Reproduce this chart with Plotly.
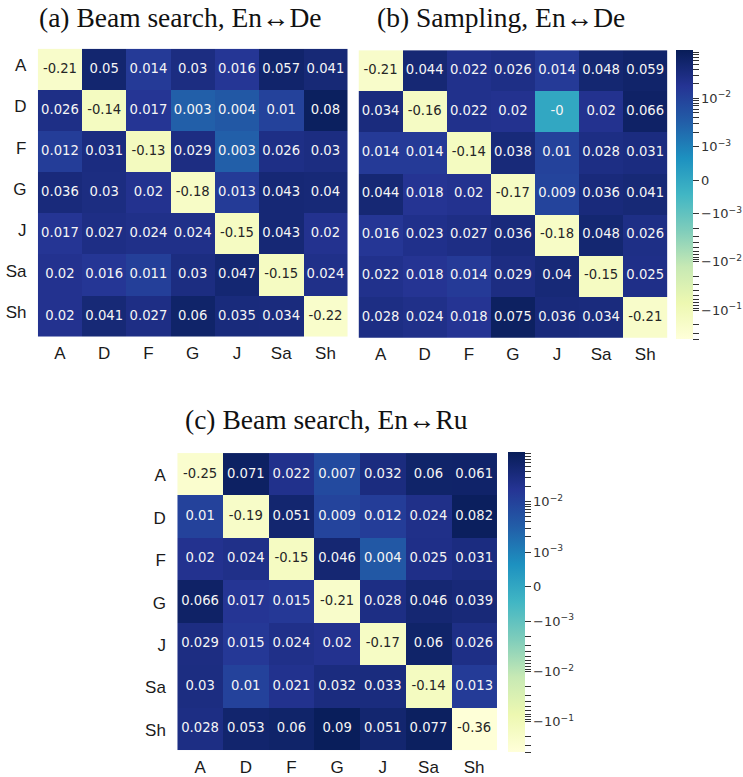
import numpy as np
import plotly.graph_objects as go

labels = ["A", "D", "F", "G", "J", "Sa", "Sh"]

beam_en_de = [
    [-0.21, 0.05, 0.014, 0.03, 0.016, 0.057, 0.041],
    [0.026, -0.14, 0.017, 0.003, 0.004, 0.01, 0.08],
    [0.012, 0.031, -0.13, 0.029, 0.003, 0.026, 0.03],
    [0.036, 0.03, 0.02, -0.18, 0.013, 0.043, 0.04],
    [0.017, 0.027, 0.024, 0.024, -0.15, 0.043, 0.02],
    [0.02, 0.016, 0.011, 0.03, 0.047, -0.15, 0.024],
    [0.02, 0.041, 0.027, 0.06, 0.035, 0.034, -0.22],
]
sampling_en_de = [
    [-0.21, 0.044, 0.022, 0.026, 0.014, 0.048, 0.059],
    [0.034, -0.16, 0.022, 0.02, -0.0, 0.02, 0.066],
    [0.014, 0.014, -0.14, 0.038, 0.01, 0.028, 0.031],
    [0.044, 0.018, 0.02, -0.17, 0.009, 0.036, 0.041],
    [0.016, 0.023, 0.027, 0.036, -0.18, 0.048, 0.026],
    [0.022, 0.018, 0.014, 0.029, 0.04, -0.15, 0.025],
    [0.028, 0.024, 0.018, 0.075, 0.036, 0.034, -0.21],
]
beam_en_ru = [
    [-0.25, 0.071, 0.022, 0.007, 0.032, 0.06, 0.061],
    [0.01, -0.19, 0.051, 0.009, 0.012, 0.024, 0.082],
    [0.02, 0.024, -0.15, 0.046, 0.004, 0.025, 0.031],
    [0.066, 0.017, 0.015, -0.21, 0.028, 0.046, 0.039],
    [0.029, 0.015, 0.024, 0.02, -0.17, 0.06, 0.026],
    [0.03, 0.01, 0.021, 0.032, 0.033, -0.14, 0.013],
    [0.028, 0.053, 0.06, 0.09, 0.051, 0.077, -0.36],
]
titles = ["(a) Beam search, En↔De", "(b) Sampling, En↔De", "(c) Beam search, En↔Ru"]

VMIN, VMAX = -0.4, 0.098
LINTHRESH, LINSCALE = 1e-3, 0.69

ylgnbu = ["#ffffd9", "#edf8b1", "#c7e9b4", "#7fcdbb", "#41b6c4",
          "#1d91c0", "#225ea8", "#253494", "#081d58"]
colorscale = [[i / 8, c] for i, c in enumerate(ylgnbu)]


def symlog(v):
    v = np.asarray(v, dtype=float)
    a = np.abs(v)
    with np.errstate(divide="ignore"):
        out = np.where(a <= LINTHRESH, a / LINTHRESH * LINSCALE,
                       LINSCALE + np.log10(np.maximum(a, 1e-300) / LINTHRESH))
    return np.sign(v) * out


ZMIN, ZMAX = float(symlog(VMIN)), float(symlog(VMAX))


def hex2rgb(h):
    return [int(h[i:i + 2], 16) / 255 for i in (1, 3, 5)]


def color_at(t):
    t = min(max(t, 0), 1) * 8
    i = min(int(t), 7)
    f = t - i
    c0, c1 = hex2rgb(ylgnbu[i]), hex2rgb(ylgnbu[i + 1])
    return [c0[k] + (c1[k] - c0[k]) * f for k in range(3)]


def text_color(v):
    t = (float(symlog(v)) - ZMIN) / (ZMAX - ZMIN)
    rgb = color_at(t)
    lin = [c / 12.92 if c <= 0.03928 else ((c + 0.055) / 1.055) ** 2.4 for c in rgb]
    lum = 0.2126 * lin[0] + 0.7152 * lin[1] + 0.0722 * lin[2]
    return "#262626" if lum > 0.408 else "#f5f5f5"


W, H = 743, 777


def xd(l, r):
    return [l / W, r / W]


def yd(top, bot):
    return [1 - bot / H, 1 - top / H]


panels = [
    dict(data=beam_en_de, ax="", xdom=xd(38, 349), ydom=yd(49, 339), coloraxis="coloraxis",
         showy=True, yshift=4),
    dict(data=sampling_en_de, ax="2", xdom=xd(360, 670), ydom=yd(50.5, 340), coloraxis="coloraxis",
         showy=False, yshift=0),
    dict(data=beam_en_ru, ax="3", xdom=xd(178, 499), ydom=yd(456, 755), coloraxis="coloraxis2",
         showy=True, yshift=-1),
]

fig = go.Figure()
tick_font = dict(family="Liberation Sans, Arial, sans-serif", size=17, color="#1a1a1a")

for p in panels:
    z = np.array(p["data"], dtype=float)
    fig.add_trace(go.Heatmap(
        z=symlog(z), x=labels, y=labels, coloraxis=p["coloraxis"],
        xaxis="x" + p["ax"], yaxis="y" + p["ax"], hoverinfo="skip", xgap=0, ygap=0,
    ))
    xs, ys, txt, cols = [], [], [], []
    for i, r in enumerate(labels):
        for j, c in enumerate(labels):
            v = p["data"][i][j]
            xs.append(c)
            ys.append(r)
            txt.append(f"{v:g}")
            cols.append(text_color(v))
    fig.add_trace(go.Scatter(
        x=xs, y=ys, text=txt, mode="text", xaxis="x" + p["ax"], yaxis="y" + p["ax"],
        textfont=dict(family="DejaVu Sans, sans-serif", size=13.2, color=cols),
        hoverinfo="skip", showlegend=False,
    ))
    fig.layout["xaxis" + p["ax"]] = dict(
        domain=p["xdom"], anchor="y" + p["ax"], type="category", showgrid=False,
        zeroline=False, showline=False, ticks="outside", ticklen=1, tickcolor="rgba(0,0,0,0)",
        tickfont=tick_font, fixedrange=True,
    )
    fig.layout["yaxis" + p["ax"]] = dict(
        domain=p["ydom"], anchor="x" + p["ax"], type="category", autorange="reversed",
        showgrid=False, zeroline=False, showline=False, ticks="outside", ticklen=7,
        tickcolor="rgba(0,0,0,0)", tickfont=tick_font, showticklabels=p["showy"],
        ticklabelshift=p["yshift"], fixedrange=True,
    )

# colorbar ticks
majors = [-0.1, -0.01, -0.001, 0.0, 0.001, 0.01]
major_text = ["−10<sup>−1</sup>", "−10<sup>−2</sup>", "−10<sup>−3</sup>", "0",
              "10<sup>−3</sup>", "10<sup>−2</sup>"]
minors = []
for e in (-3, -2, -1):
    for k in range(2, 10):
        for s in (-1, 1):
            v = s * k * 10.0 ** e
            if VMIN <= v <= VMAX:
                minors.append(v)
tickvals = [float(x) for x in symlog(majors)] + [float(x) for x in symlog(minors)]
ticktext = major_text + [""] * len(minors)


def cbar(x_left, top, bot):
    return dict(
        thickness=16.5, thicknessmode="pixels", len=bot - top, lenmode="pixels",
        x=x_left / W, xanchor="left", y=1 - top / H, yanchor="top", xpad=0, ypad=0,
        outlinewidth=0, tickmode="array", tickvals=tickvals, ticktext=ticktext,
        ticks="outside", ticklen=6, tickwidth=1, tickcolor="#333333",
        tickfont=dict(family="DejaVu Sans, sans-serif", size=13, color="#333333"),
    )


fig.update_layout(
    width=W, height=H, margin=dict(l=0, r=0, t=0, b=0),
    paper_bgcolor="white", plot_bgcolor="white", showlegend=False,
    coloraxis=dict(colorscale=colorscale, cmin=ZMIN, cmax=ZMAX, colorbar=cbar(679, 50.7, 340)),
    coloraxis2=dict(colorscale=colorscale, cmin=ZMIN, cmax=ZMAX, colorbar=cbar(510, 455, 755)),
)

title_font = dict(family="Liberation Serif, Times New Roman, serif", size=27.5, color="#111111")
for t, cx, cy in zip(titles, [181.5, 503, 327.5], [18, 18, 422.5]):
    fig.add_annotation(text=t, x=cx / W, y=1 - cy / H, xref="paper", yref="paper",
                       xanchor="center", yanchor="middle", showarrow=False, font=title_font)

fig.write_html(
    "out.html",
    config={"displayModeBar": False},
    post_script="document.body.style.margin='0px';document.body.style.overflow='hidden';",
)
